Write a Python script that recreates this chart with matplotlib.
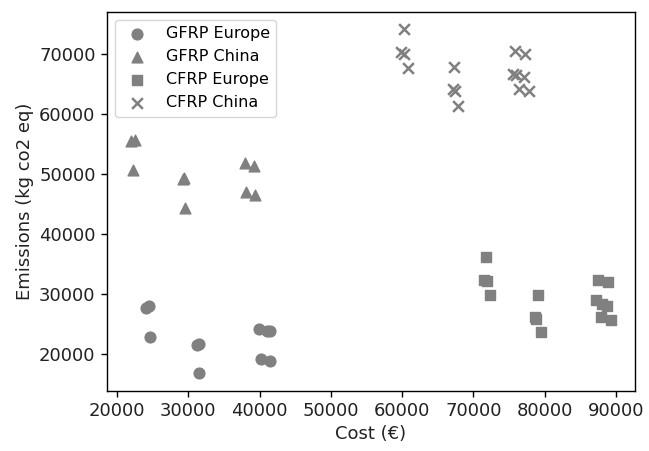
import matplotlib
matplotlib.use("Agg")
import matplotlib.pyplot as plt

# Cost (EUR) and emissions (kg CO2 eq) per design
gfrp_eu_cost = [24100, 24500, 24550, 31200, 31500, 31440, 39900, 41100, 41500, 40130, 41520]
gfrp_eu_emis = [27600, 27900, 22770, 21400, 21600, 16670, 24050, 23800, 23700, 19170, 18720]

gfrp_cn_cost = [21900, 22450, 22270, 29200, 29450, 29530, 37890, 39190, 38030, 39290]
gfrp_cn_emis = [55430, 55670, 50670, 49100, 49250, 44330, 51770, 51380, 46930, 46550]

cfrp_eu_cost = [71830, 71500, 71970, 72300, 79040, 78600, 78800, 79500,
                87450, 88840, 87200, 88000, 88700, 87920, 89320]
cfrp_eu_emis = [36100, 32330, 32100, 29720, 29720, 26100, 25800, 23600,
                32330, 31930, 28900, 28300, 28000, 26100, 25550]

cfrp_cn_cost = [60210, 59890, 60210, 60810, 67320, 67100, 67400, 67880,
                75790, 77320, 75550, 75930, 77180, 76390, 77780]
cfrp_cn_emis = [74170, 70430, 70100, 67770, 67880, 64200, 63900, 61380,
                70550, 70100, 66770, 66550, 66220, 64170, 63770]

series = [
    ("GFRP Europe", "o", gfrp_eu_cost, gfrp_eu_emis),
    ("GFRP China", "^", gfrp_cn_cost, gfrp_cn_emis),
    ("CFRP Europe", "s", cfrp_eu_cost, cfrp_eu_emis),
    ("CFRP China", "x", cfrp_cn_cost, cfrp_cn_emis),
]

fig, ax = plt.subplots(figsize=(6.49, 4.51), dpi=100)
fig.subplots_adjust(left=0.1644, right=0.9784, top=0.9734, bottom=0.1337)

for label, marker, cost, emis in series:
    ax.scatter(cost, emis, marker=marker, color="gray", s=60,
               linewidths=1.8 if marker == "x" else None, label=label)

ax.set_xlabel("Cost (€)", fontsize=13, color="#222222")
ax.set_ylabel("Emissions (kg co2 eq)", fontsize=13, color="#222222")
ax.tick_params(labelsize=13, length=4.5, width=1.0, labelcolor="#222222")
for spine in ax.spines.values():
    spine.set_linewidth(1.0)
ax.legend(loc="upper left", fontsize=11.5)

fig.savefig("out.png", dpi=100)
